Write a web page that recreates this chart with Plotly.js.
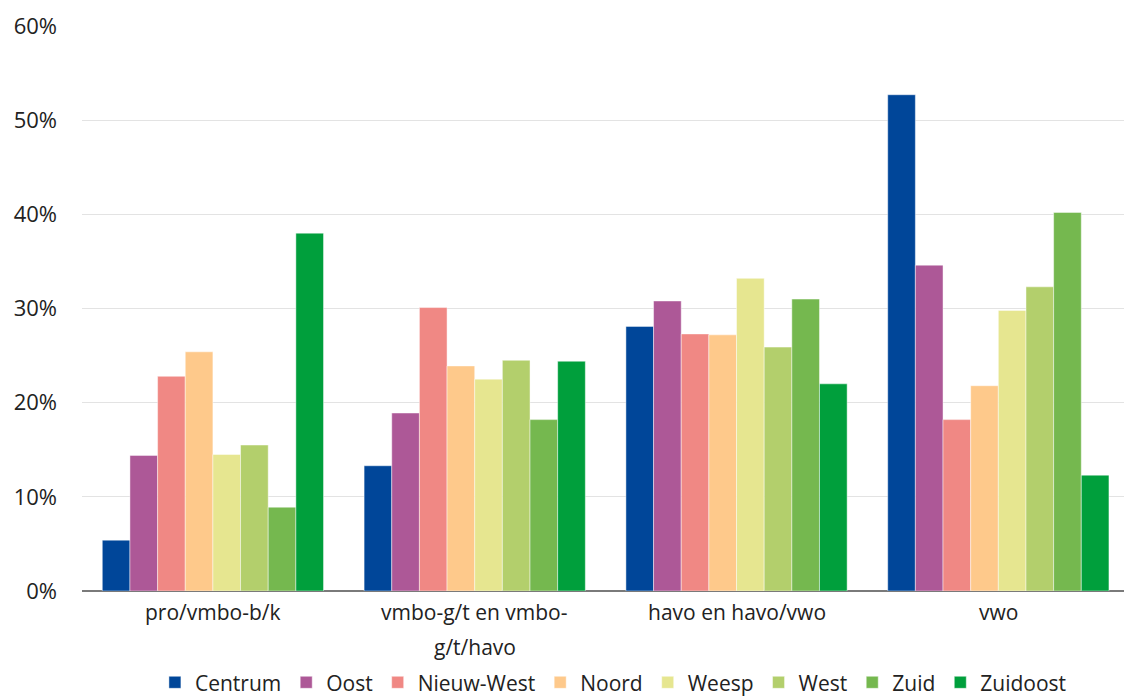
<!DOCTYPE html>
<html>
<head>
<meta charset="utf-8">
<script src="https://cdn.plot.ly/plotly-3.0.1.min.js"></script>
<style>html,body{margin:0;padding:0;background:#fff;}#chart{width:1124px;height:697px;}</style>
</head>
<body>
<div id="chart"></div>
<script>
const categories = ["pro/vmbo-b/k", "vmbo-g/t en vmbo-<br>g/t/havo", "havo en havo/vwo", "vwo"];
const seriesNames = ["Centrum", "Oost", "Nieuw-West", "Noord", "Weesp", "West", "Zuid", "Zuidoost"];
const centrum   = [5.4, 13.3, 28.1, 52.7];
const oost      = [14.4, 18.9, 30.8, 34.6];
const nieuwWest = [22.8, 30.1, 27.3, 18.2];
const noord     = [25.4, 23.9, 27.2, 21.8];
const weesp     = [14.5, 22.5, 33.2, 29.8];
const west      = [15.5, 24.5, 25.9, 32.3];
const zuid      = [8.9, 18.2, 31.0, 40.2];
const zuidoost  = [38.0, 24.4, 22.0, 12.3];
const seriesValues = [centrum, oost, nieuwWest, noord, weesp, west, zuid, zuidoost];
const colors = ["#004699", "#ad5897", "#f08884", "#fec98b", "#e6e690", "#b3cf6c", "#75b84f", "#009f3c"];

const font = "'Open Sans', Lato, sans-serif";
const traces = seriesNames.map((name, i) => ({
  type: "bar",
  name: name,
  x: categories.map((c, j) => j),
  y: seriesValues[i],
  marker: {color: colors[i], line: {color: "rgba(255,255,255,0.45)", width: 1}},
  hoverinfo: "y+name"
}));

const annotations = [];
categories.forEach((c, j) => {
  c.split("<br>").forEach((line, k) => {
    annotations.push({
      text: line, xref: "x", yref: "paper", x: j, y: 0,
      yanchor: "middle", xanchor: "center", yshift: -21 - 35 * k,
      showarrow: false, font: {family: font, size: 21, color: "#222"}
    });
  });
});

const layout = {
  width: 1124, height: 697,
  margin: {l: 82, r: 0, t: 26, b: 106},
  paper_bgcolor: "#fff", plot_bgcolor: "#fff",
  barmode: "group", bargap: 0.155, bargroupgap: 0,
  font: {family: font, size: 21, color: "#222"},
  xaxis: {range: [-0.5, 3.48], showticklabels: false, showgrid: false, zeroline: false, ticks: "", showline: false, fixedrange: true},
  yaxis: {range: [0, 60], dtick: 10, ticksuffix: "%", showgrid: true, gridcolor: "#e3e3e3", gridwidth: 1,
          zeroline: true, zerolinecolor: "#7a7a7a", zerolinewidth: 2, ticks: "", ticklabelstandoff: 24,
          tickfont: {family: font, size: 22, color: "#222"}, fixedrange: true},
  showlegend: true,
  legend: {orientation: "h", xref: "paper", x: 0.51, xanchor: "center", yref: "container", y: 0.05, yanchor: "top",
           font: {family: font, size: 21, color: "#222"}, itemclick: false, traceorder: "normal", itemwidth: 30,
           tracegroupgap: 0},
  annotations: annotations
};
Plotly.newPlot("chart", traces, layout, {displayModeBar: false, staticPlot: true});
</script>
</body>
</html>
